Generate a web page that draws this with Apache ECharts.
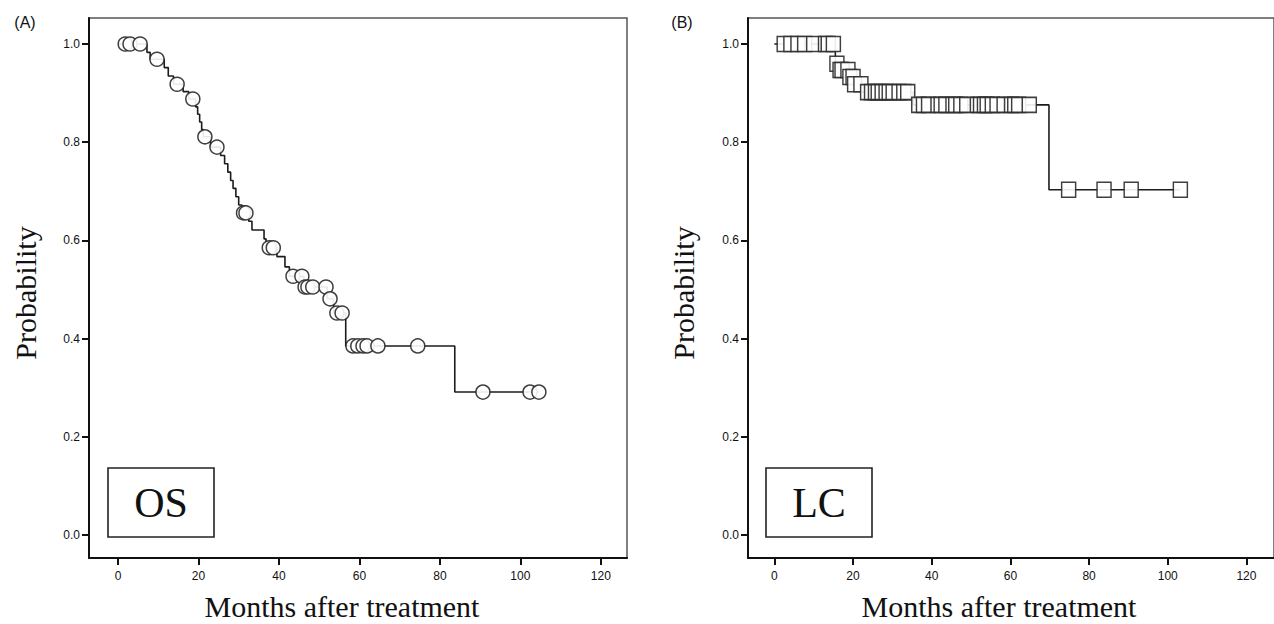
<!DOCTYPE html>
<html>
<head>
<meta charset="utf-8">
<title>OS / LC</title>
<script src="https://cdn.jsdelivr.net/npm/echarts@6/dist/echarts.min.js"></script>
<style>
    html, body { margin: 0; padding: 0; background: #fff; }
    #chart { width: 1274px; height: 624px; }
</style>
</head>
<body>
<div id="chart"></div>
<script>
// tick labels
const xTicks = [0, 20, 40, 60, 80, 100, 120];
const yTicks = [0, 0.2, 0.4, 0.6, 0.8, 1.0];

// (A) overall survival: step points (month, survival) and censored months
const osStepMonths = [0, 7.2, 8.0, 11.5, 12.5, 13.8, 16.2, 17.6, 19.3, 19.8, 20.3, 20.8, 21.2, 23.0,
    25.5, 26.5, 27.3, 28.0, 28.6, 29.3, 30.0, 30.8, 32.5, 33.3, 36.3, 36.8, 39.5, 41.5, 42.6,
    46.2, 52.0, 53.6, 56.6, 83.7, 104.6];
const osStepSurv = [1.0, 0.983, 0.969, 0.952, 0.935, 0.918, 0.903, 0.888, 0.872, 0.857, 0.841, 0.826, 0.811, 0.790,
    0.773, 0.756, 0.739, 0.722, 0.706, 0.689, 0.672, 0.656, 0.639, 0.621, 0.603, 0.585, 0.567, 0.546, 0.527,
    0.505, 0.481, 0.452, 0.385, 0.291, 0.291];
const osCensorMonths = [1.8, 3.0, 5.5, 9.7, 14.7, 18.6, 21.6, 24.6, 31.2, 31.8, 37.6, 38.6, 43.5, 45.7,
    46.5, 47.2, 48.4, 51.7, 52.7, 54.4, 55.7, 58.4, 59.6, 60.9, 61.9, 64.6, 74.5, 90.7, 102.4, 104.6];

// (B) local control
const lcStepMonths = [0, 15.5, 16.3, 18.9, 20.2, 22.5, 35.3, 69.8, 103.2];
const lcStepSurv = [1.0, 0.960, 0.947, 0.933, 0.918, 0.902, 0.876, 0.703, 0.703];
const lcCensorMonths = [2.5, 4.2, 6.0, 7.7, 10.0, 13.0, 13.7, 15.0, 15.9, 16.7, 17.2, 18.7, 19.2, 20.0,
    20.4, 22.0, 23.7, 24.7, 25.7, 26.4, 27.4, 28.4, 29.2, 30.2, 31.7, 32.9, 33.9,
    36.7, 37.9, 39.2, 41.6, 42.4, 43.6, 45.4, 46.1, 47.4, 48.9, 51.6, 52.4, 53.4, 54.1,
    55.4, 56.6, 58.4, 60.3, 61.1, 62.1, 64.8, 74.8, 83.8, 90.7, 103.2];

const lineColor = "#1c1c1c";

// survival level of the step curve at month t
const levelAt = (months, surv, t) => {
    let v = surv[0];
    months.forEach((m, i) => {
        if (m <= t) v = surv[i];
    });
    return v;
};
const steps = (months, surv) => months.map((m, i) => [m, surv[i]]);
const censors = (cm, months, surv) => cm.map(t => [t, levelAt(months, surv, t)]);

const xAxis = (gridIndex, min, max) => ({
    type: "value",
    gridIndex,
    min,
    max,
    axisLine: { show: true, onZero: false, lineStyle: { color: "#111", width: 2 } },
    axisTick: { show: true, length: 7, customValues: xTicks, lineStyle: { color: "#111", width: 2 } },
    axisLabel: {
        customValues: xTicks,
        margin: 12,
        color: "#111",
        fontSize: 12,
        fontFamily: "Liberation Sans, Arial, sans-serif",
    },
    splitLine: { show: false },
});
const yAxis = gridIndex => ({
    type: "value",
    gridIndex,
    min: -0.047,
    max: 1.053,
    axisLine: { show: true, onZero: false, lineStyle: { color: "#111", width: 2 } },
    axisTick: { show: true, length: 7, customValues: yTicks, lineStyle: { color: "#111", width: 2 } },
    axisLabel: {
        customValues: yTicks,
        margin: 9,
        color: "#111",
        fontSize: 12,
        fontFamily: "Liberation Sans, Arial, sans-serif",
        formatter: v => v.toFixed(1),
    },
    splitLine: { show: false },
});
const gridBox = (left, width) => ({
    left,
    top: 18,
    width,
    height: 540,
    show: true,
    borderColor: "#555",
    borderWidth: 1.5,
    backgroundColor: "transparent",
});
const stepLine = (idx, data) => ({
    type: "line",
    step: "end",
    xAxisIndex: idx,
    yAxisIndex: idx,
    symbol: "none",
    lineStyle: { color: lineColor, width: 1.6 },
    data,
    z: 2,
});
const marks = (idx, data, symbol, size) => ({
    type: "scatter",
    xAxisIndex: idx,
    yAxisIndex: idx,
    symbol,
    symbolSize: size,
    itemStyle: { color: "#fff", borderColor: "#2a2a2a", borderWidth: 1.5, opacity: 0.9 },
    data,
    z: 3,
});
const serifText = (x, y, text, size, rotation) => ({
    type: "text",
    x,
    y,
    rotation: rotation || 0,
    style: {
        text,
        fill: "#111",
        font: size + "px 'Liberation Serif', 'Times New Roman', serif",
        textAlign: "center",
        textVerticalAlign: "middle",
    },
});
const labelBox = (x, text) => ({
    type: "group",
    children: [
        { type: "rect", shape: { x, y: 468, width: 106, height: 69 }, style: { fill: "#fff", stroke: "#222", lineWidth: 1.6 } },
        serifText(x + 53, 503, text, 42),
    ],
});
const panelTag = (x, text) => ({
    type: "text",
    x,
    y: 22,
    style: {
        text,
        fill: "#111",
        font: "16px 'Liberation Sans', Arial, sans-serif",
        textAlign: "center",
        textVerticalAlign: "middle",
    },
});

const option = {
    animation: false,
    grid: [gridBox(89, 538), gridBox(748, 536)],
    xAxis: [xAxis(0, -7.2, 126.5), xAxis(1, -6.7, 127)],
    yAxis: [yAxis(0), yAxis(1)],
    series: [
        stepLine(0, steps(osStepMonths, osStepSurv)),
        marks(0, censors(osCensorMonths, osStepMonths, osStepSurv), "circle", 14),
        stepLine(1, steps(lcStepMonths, lcStepSurv)),
        marks(1, censors(lcCensorMonths, lcStepMonths, lcStepSurv), "rect", [14, 15]),
    ],
    graphic: [
        panelTag(25, "(A)"),
        panelTag(682, "(B)"),
        serifText(342, 606, "Months after treatment", 30),
        serifText(999, 606, "Months after treatment", 30),
        serifText(25, 293, "Probability", 30, Math.PI / 2),
        serifText(683, 293, "Probability", 30, Math.PI / 2),
        labelBox(108, "OS"),
        labelBox(766, "LC"),
    ],
};

const chart = echarts.init(document.getElementById("chart"), null, { renderer: "svg" });
chart.setOption(option);
</script>
</body>
</html>
